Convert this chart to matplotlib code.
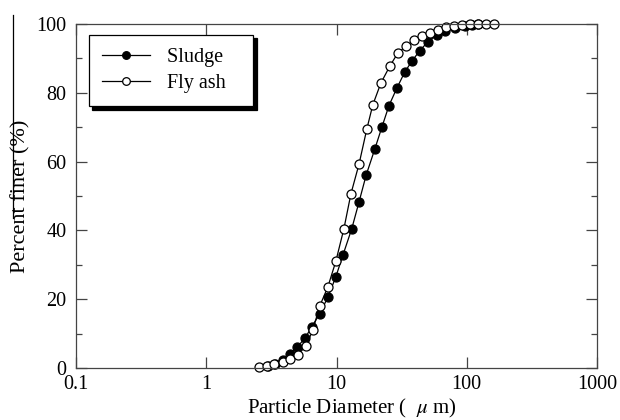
import matplotlib
matplotlib.use("Agg")
from matplotlib import pyplot as plt
from matplotlib.lines import Line2D
from matplotlib.ticker import FixedLocator, MultipleLocator

plt.rcParams["font.family"] = ["Liberation Serif", "DejaVu Serif"]
plt.rcParams["mathtext.fontset"] = "stix"

# particle size distribution
sludge_d = [2.97, 3.37, 3.86, 4.39, 4.97, 5.71, 6.47, 7.43, 8.57, 9.88,
            11.2, 13.1, 14.9, 16.9, 19.7, 22.3, 25.3, 29.1, 33.4, 37.9,
            43.5, 50.2, 58.9, 67.9, 81.0, 96.7, 109, 122]
sludge_pct = [0.5, 1.3, 2.4, 4.0, 6.0, 8.6, 12.0, 15.8, 20.5, 26.5,
              32.8, 40.5, 48.3, 56.1, 63.7, 70.0, 76.3, 81.4, 86.0, 89.2,
              92.2, 94.8, 96.8, 98.0, 98.8, 99.4, 99.8, 100]

flyash_d = [2.54, 2.92, 3.29, 3.86, 4.39, 5.07, 5.83, 6.58, 7.43, 8.57,
            9.88, 11.4, 12.9, 14.9, 17.1, 19.0, 21.9, 25.7, 29.5, 34.0,
            39.5, 45.5, 52.0, 60.0, 69.0, 80.0, 92.0, 106, 122, 140, 162]
flyash_pct = [0.3, 0.6, 1.1, 1.7, 2.6, 3.8, 6.5, 11.0, 18.0, 23.5,
              31.0, 40.5, 50.6, 59.3, 69.5, 76.5, 82.8, 87.8, 91.5, 93.5,
              95.3, 96.5, 97.5, 98.3, 99.0, 99.5, 99.8, 100, 100, 100, 100]

x_ticks = [0.1, 1, 10, 100, 1000]
x_labels = ["0.1", "1", "10", "100", "1000"]
y_ticks = [0, 20, 40, 60, 80, 100]

fig = plt.figure(figsize=(6.2, 4.2), dpi=100)
ax = fig.add_axes([76 / 620, 52 / 420, 521 / 620, 344 / 420])

ax.plot(sludge_d, sludge_pct, "-o", color="black", lw=0.9, ms=6.5,
        mfc="black", mec="black", mew=0.9, clip_on=False, label="Sludge   ")
ax.plot(flyash_d, flyash_pct, "-o", color="black", lw=0.9, ms=6.5,
        mfc="white", mec="black", mew=0.9, clip_on=False, label="Fly ash   ")

ax.set_xscale("log")
ax.set_xlim(0.1, 1000)
ax.set_ylim(0, 100)
ax.xaxis.set_major_locator(FixedLocator(x_ticks))
ax.set_xticklabels(x_labels)
ax.xaxis.set_minor_locator(FixedLocator([]))
ax.yaxis.set_major_locator(FixedLocator(y_ticks))
ax.yaxis.set_minor_locator(MultipleLocator(10))

ax.tick_params(which="both", direction="in", top=True, right=True,
               labelsize=14.5, width=0.9, color="#444444")
ax.tick_params(which="major", length=8)
ax.tick_params(axis="x", which="major", pad=5)
ax.tick_params(axis="y", which="major", pad=7)
ax.tick_params(which="minor", length=4.5)
for s in ax.spines.values():
    s.set_linewidth(0.9)
    s.set_color("#444444")

ax.set_xlabel("Particle Diameter (  $\\mu$ m)", fontsize=15)
ax.xaxis.set_label_coords(0.53, -0.085)
ax.set_ylabel("Percent finer (%)", fontsize=16)
ax.yaxis.set_label_coords(-0.088, 0.5)

leg = ax.legend(loc="upper left", bbox_to_anchor=(0.025, 0.968),
                fontsize=14.5, frameon=True, fancybox=False,
                shadow={"color": "black", "alpha": 1, "ox": 2.5, "oy": -2.5},
                handlelength=2.4, handletextpad=0.8, borderpad=0.65,
                labelspacing=0.35, borderaxespad=0)
leg.get_frame().set_edgecolor("black")
leg.get_frame().set_linewidth(0.9)
for h in leg.legend_handles:
    h.set_markersize(5.5)

# stray line over the y label in the original scan
fig.add_artist(Line2D([13 / 620, 13 / 620], [1 - 15 / 420, 1 - 218 / 420],
                      color="black", lw=0.9))

fig.savefig("out.png", dpi=100)
